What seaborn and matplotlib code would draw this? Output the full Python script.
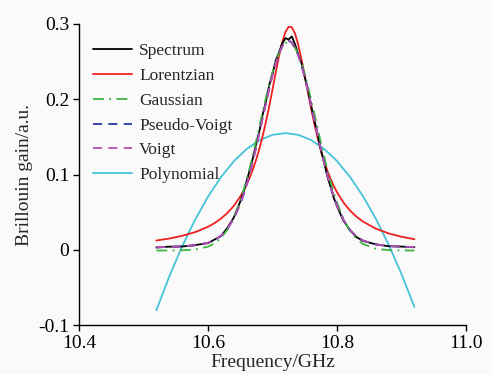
import numpy as np
import pandas as pd
import seaborn as sns
import matplotlib
matplotlib.use("Agg")
import matplotlib.pyplot as plt
from matplotlib.ticker import FixedLocator

# ---------------- data ----------------
freq = [10.52, 10.54, 10.56, 10.58, 10.60, 10.61, 10.62, 10.63, 10.64, 10.65,
        10.655, 10.66, 10.665, 10.67, 10.675, 10.68, 10.685, 10.69, 10.695, 10.70,
        10.705, 10.71, 10.715, 10.72, 10.725, 10.73, 10.735, 10.74, 10.745, 10.75,
        10.755, 10.76, 10.765, 10.77, 10.775, 10.78, 10.785, 10.79, 10.795, 10.80,
        10.81, 10.82, 10.83, 10.84, 10.86, 10.88, 10.90, 10.92]

spectrum = [.0030, .0041, .0043, .0062, .0088, .0135, .0180, .0290, .0428, .0640,
            .0762, .0915, .1068, .1232, .1420, .1590, .1805, .1978, .2190, .2335,
            .2515, .2622, .2738, .2812, .2795, .2835, .2730, .2592, .2478, .2296,
            .2130, .1915, .1718, .1535, .1322, .1160, .0975, .0838, .0690, .0580,
            .0385, .0262, .0170, .0118, .0072, .0047, .0042, .0033]

lorentzian = [.0123, .0149, .0185, .0234, .0305, .0353, .0413, .0488, .0583, .0706,
              .0781, .0866, .0965, .1077, .1206, .1353, .1520, .1707, .1911, .2130,
              .2354, .2569, .2755, .2893, .2963, .2956, .2871, .2721, .2527, .2309,
              .2086, .1869, .1668, .1485, .1322, .1179, .1053, .0944, .0848, .0765,
              .0628, .0523, .0441, .0376, .0281, .0217, .0173, .0140]

gaussian = [-.0010, -.0010, -.0007, .0003, .0041, .0084, .0155, .0266, .0428, .0651,
            .0786, .0936, .1100, .1276, .1461, .1651, .1841, .2027, .2202, .2362,
            .2501, .2613, .2696, .2746, .2760, .2738, .2682, .2594, .2475, .2332,
            .2168, .1990, .1804, .1613, .1424, .1240, .1066, .0905, .0757, .0626,
            .0409, .0253, .0147, .0078, .0014, -.0005, -.0009, -.0010]

pseudo_voigt = [.0033, .0037, .0045, .0058, .0092, .0128, .0185, .0277, .0414, .0609,
                .0731, .0870, .1025, .1194, .1376, .1567, .1762, .1957, .2146, .2322,
                .2478, .2608, .2705, .2763, .2780, .2754, .2688, .2584, .2449, .2288,
                .2109, .1919, .1723, .1528, .1338, .1159, .0992, .0841, .0706, .0587,
                .0398, .0265, .0178, .0123, .0070, .0050, .0040, .0035]

voigt = [.0034, .0038, .0046, .0059, .0093, .0129, .0186, .0278, .0412, .0606,
         .0728, .0866, .1021, .1190, .1372, .1563, .1758, .1953, .2142, .2318,
         .2474, .2603, .2700, .2758, .2775, .2749, .2683, .2580, .2445, .2284,
         .2105, .1915, .1720, .1525, .1336, .1157, .0990, .0840, .0706, .0587,
         .0399, .0266, .0179, .0124, .0071, .0051, .0041, .0036]

poly_freq = [10.52, 10.54, 10.56, 10.58, 10.60, 10.62, 10.64, 10.66, 10.68, 10.70,
             10.72, 10.74, 10.76, 10.78, 10.80, 10.82, 10.84, 10.86, 10.88, 10.90, 10.92]
polynomial = [-.0804, -.0355, .0047, .0399, .0705, .0964, .1176, .1339, .1457, .1527,
              .1550, .1527, .1457, .1341, .1178, .0970, .0715, .0415, .0069, -.0323, -.0760]

x_ticks = [10.4, 10.6, 10.8, 11.0]
x_tick_labels = ["10.4", "10.6", "10.8", "11.0"]
y_ticks = [-0.1, 0.0, 0.1, 0.2, 0.3]
y_tick_labels = ["-0.1", "0", "0.1", "0.2", "0.3"]

# ---------------- style ----------------
sns.set_style("ticks")
plt.rcParams["font.family"] = ["Liberation Serif", "DejaVu Serif"]
plt.rcParams["axes.unicode_minus"] = False

fig = plt.figure(figsize=(4.92, 3.74), dpi=100, facecolor="#fafafa")
ax = fig.add_axes([79 / 492, 49 / 374, (466 - 79) / 492, (325 - 24) / 374])
ax.set_facecolor("#fafafa")

df = pd.DataFrame({"freq": freq, "Spectrum": spectrum, "Lorentzian": lorentzian,
                   "Gaussian": gaussian, "Pseudo-Voigt": pseudo_voigt, "Voigt": voigt})
dfp = pd.DataFrame({"freq": poly_freq, "Polynomial": polynomial})

sns.lineplot(data=dfp, x="freq", y="Polynomial", ax=ax, color="#45c3d9",
             lw=1.3, label="Polynomial")
sns.lineplot(data=df, x="freq", y="Lorentzian", ax=ax, color="#ee2020",
             lw=1.3, label="Lorentzian")
sns.lineplot(data=df, x="freq", y="Spectrum", ax=ax, color="black",
             lw=1.3, label="Spectrum")
sns.lineplot(data=df, x="freq", y="Gaussian", ax=ax, color="#3fb33f",
             lw=1.3, linestyle=(0, (6, 3, 1, 3)), label="Gaussian")
sns.lineplot(data=df, x="freq", y="Pseudo-Voigt", ax=ax, color="#2a35a8",
             lw=1.3, linestyle=(0, (5, 3.5)), label="Pseudo-Voigt")
sns.lineplot(data=df, x="freq", y="Voigt", ax=ax, color="#b84fae",
             lw=1.3, linestyle=(0, (5, 3.5)), label="Voigt")

ax.set_xlim(10.4, 11.0)
ax.set_ylim(-0.1, 0.3)
ax.xaxis.set_major_locator(FixedLocator(x_ticks))
ax.set_xticklabels(x_tick_labels)
ax.yaxis.set_major_locator(FixedLocator(y_ticks))
ax.set_yticklabels(y_tick_labels)
ax.tick_params(axis="both", labelsize=14, length=4, width=1.0, direction="out",
               colors="black", pad=3)
for s in ["top", "right"]:
    ax.spines[s].set_visible(False)
for s in ["left", "bottom"]:
    ax.spines[s].set_color("black")
    ax.spines[s].set_linewidth(1.0)

ax.set_xlabel("Frequency/GHz", fontsize=14, labelpad=1.5)
ax.set_ylabel("Brillouin gain/a.u.", fontsize=14, labelpad=4)

handles, labels = ax.get_legend_handles_labels()
order = ["Spectrum", "Lorentzian", "Gaussian", "Pseudo-Voigt", "Voigt", "Polynomial"]
hmap = dict(zip(labels, handles))
ax.legend([hmap[k] for k in order], order, loc="upper left",
          bbox_to_anchor=(93 / 492, 1 - 43 / 374), bbox_transform=fig.transFigure,
          frameon=False, fontsize=12.5, handlelength=2.25, handletextpad=0.4,
          labelspacing=0.5, borderpad=0, borderaxespad=0)

fig.savefig("out.png", dpi=100, facecolor=fig.get_facecolor())
